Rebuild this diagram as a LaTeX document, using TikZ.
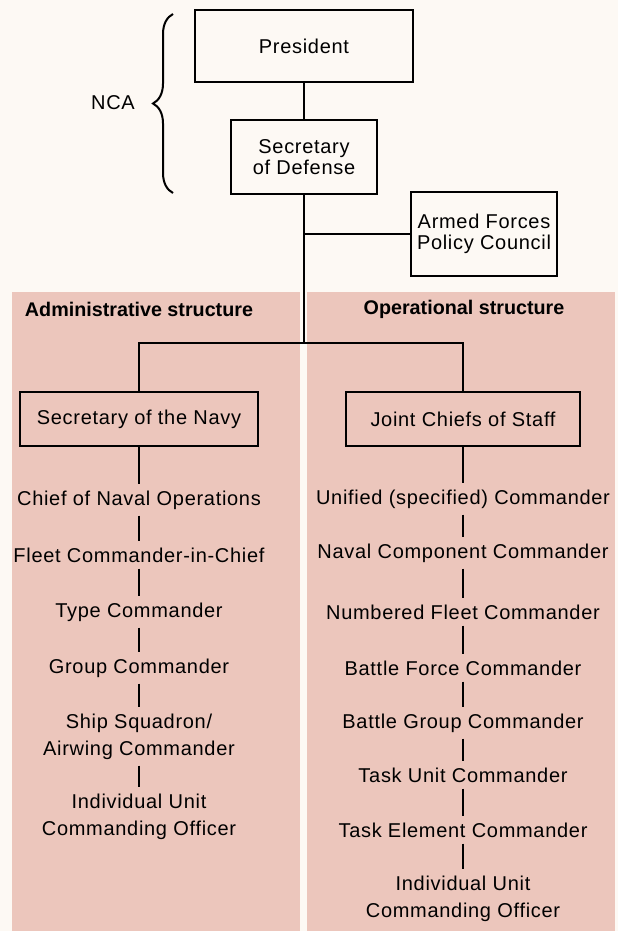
\documentclass[tikz,border=0pt]{standalone}
\usepackage{fontspec}
\setmainfont{Liberation Sans}[LetterSpace=3.5]
\newfontfamily\headfont{Liberation Sans}
\usetikzlibrary{decorations.pathreplacing}
\definecolor{paper}{RGB}{253,249,244}
\definecolor{panelpink}{RGB}{236,198,188}

\begin{document}
\begin{tikzpicture}[x=0.75pt, y=-0.75pt,
    every node/.style={font=\fontsize{15}{20.25}\selectfont},
    orgbox/.style={draw, line width=1.4pt, align=center, inner sep=2pt,
        font=\fontsize{15}{16}\selectfont},
    rank/.style={align=center, inner sep=4.5pt},
    link/.style={line width=1.1pt},
    head/.style={font=\headfont\bfseries\fontsize{14.8}{18}\selectfont}]

\useasboundingbox (0,0) rectangle (618,931);
\fill[paper] (0,0) rectangle (618,931);
\fill[panelpink] (12,292) rectangle (300,931);
\fill[panelpink] (307,292) rectangle (615,931);

% national command authority
\node[orgbox, minimum width=164pt, minimum height=54pt] (pres) at (304,46) {President};
\node[orgbox, minimum width=110pt, minimum height=55pt] (secdef) at (304,157) {Secretary\\of Defense};
\node[orgbox, minimum width=110pt, minimum height=63pt] (afpc) at (484,234) {Armed Forces\\Policy Council};
\draw[line width=1.5pt, decorate, decoration={brace, amplitude=15pt}] (173,193) -- (173,14);
\node (nca) at (113,103) {NCA};

\node[head] (adminhead) at (139,309) {Administrative structure};
\node[head] (ophead) at (464,309) {Operational structure};

\node[orgbox, minimum width=178pt, minimum height=40.5pt] (secnav) at (139,419) {Secretary of the Navy};
\node[orgbox, minimum width=175.5pt, minimum height=40.5pt] (jcs) at (463,419) {Joint Chiefs of Staff};

\coordinate (fork) at (304,343);
\coordinate (tap) at (secdef.south |- afpc.west);
\draw[link] (pres) -- (secdef);
\draw[link] (secdef.south) -- (fork);
\draw[link] (tap) -- (afpc.west);
\draw[link] (secnav.north) |- (fork) -| (jcs.north);

% administrative chain
\node[rank] (cno) at (139,500) {Chief of Naval Operations};
\node[rank] (fcinc) at (139,555) {Fleet Commander-in-Chief};
\node[rank] (typecdr) at (139,612) {Type Commander};
\node[rank] (groupcdr) at (139,668) {Group Commander};
\node[rank] (squadcdr) at (139,736.5) {Ship Squadron/\\Airwing Commander};
\node[rank] (unitco) at (139,816.5) {Individual Unit\\Commanding Officer};
\draw[link] (secnav.south) -- (cno.north);
\draw[link] (cno.south) -- (fcinc.north);
\draw[link] (fcinc.south) -- (typecdr.north);
\draw[link] (typecdr.south) -- (groupcdr.north);
\draw[link] (groupcdr.south) -- (squadcdr.north);
\draw[link] (squadcdr.south) -- (unitco.north);

% operational chain
\node[rank] (unified) at (463,499) {Unified (specified) Commander};
\node[rank] (navcomp) at (463,553) {Naval Component Commander};
\node[rank] (numfleet) at (463,612) {Numbered Fleet Commander};
\node[rank] (bfcdr) at (463,668) {Battle Force Commander};
\node[rank] (bgcdr) at (463,723) {Battle Group Commander};
\node[rank] (tucdr) at (463,775) {Task Unit Commander};
\node[rank] (tecdr) at (463,830) {Task Element Commander};
\node[rank] (opunitco) at (463,898.5) {Individual Unit\\Commanding Officer};
\draw[link] (jcs.south) -- (unified.north);
\draw[link] (unified.south) -- (navcomp.north);
\draw[link] (navcomp.south) -- (numfleet.north);
\draw[link] (numfleet.south) -- (bfcdr.north);
\draw[link] (bfcdr.south) -- (bgcdr.north);
\draw[link] (bgcdr.south) -- (tucdr.north);
\draw[link] (tucdr.south) -- (tecdr.north);
\draw[link] (tecdr.south) -- (opunitco.north);
\end{tikzpicture}
\end{document}
